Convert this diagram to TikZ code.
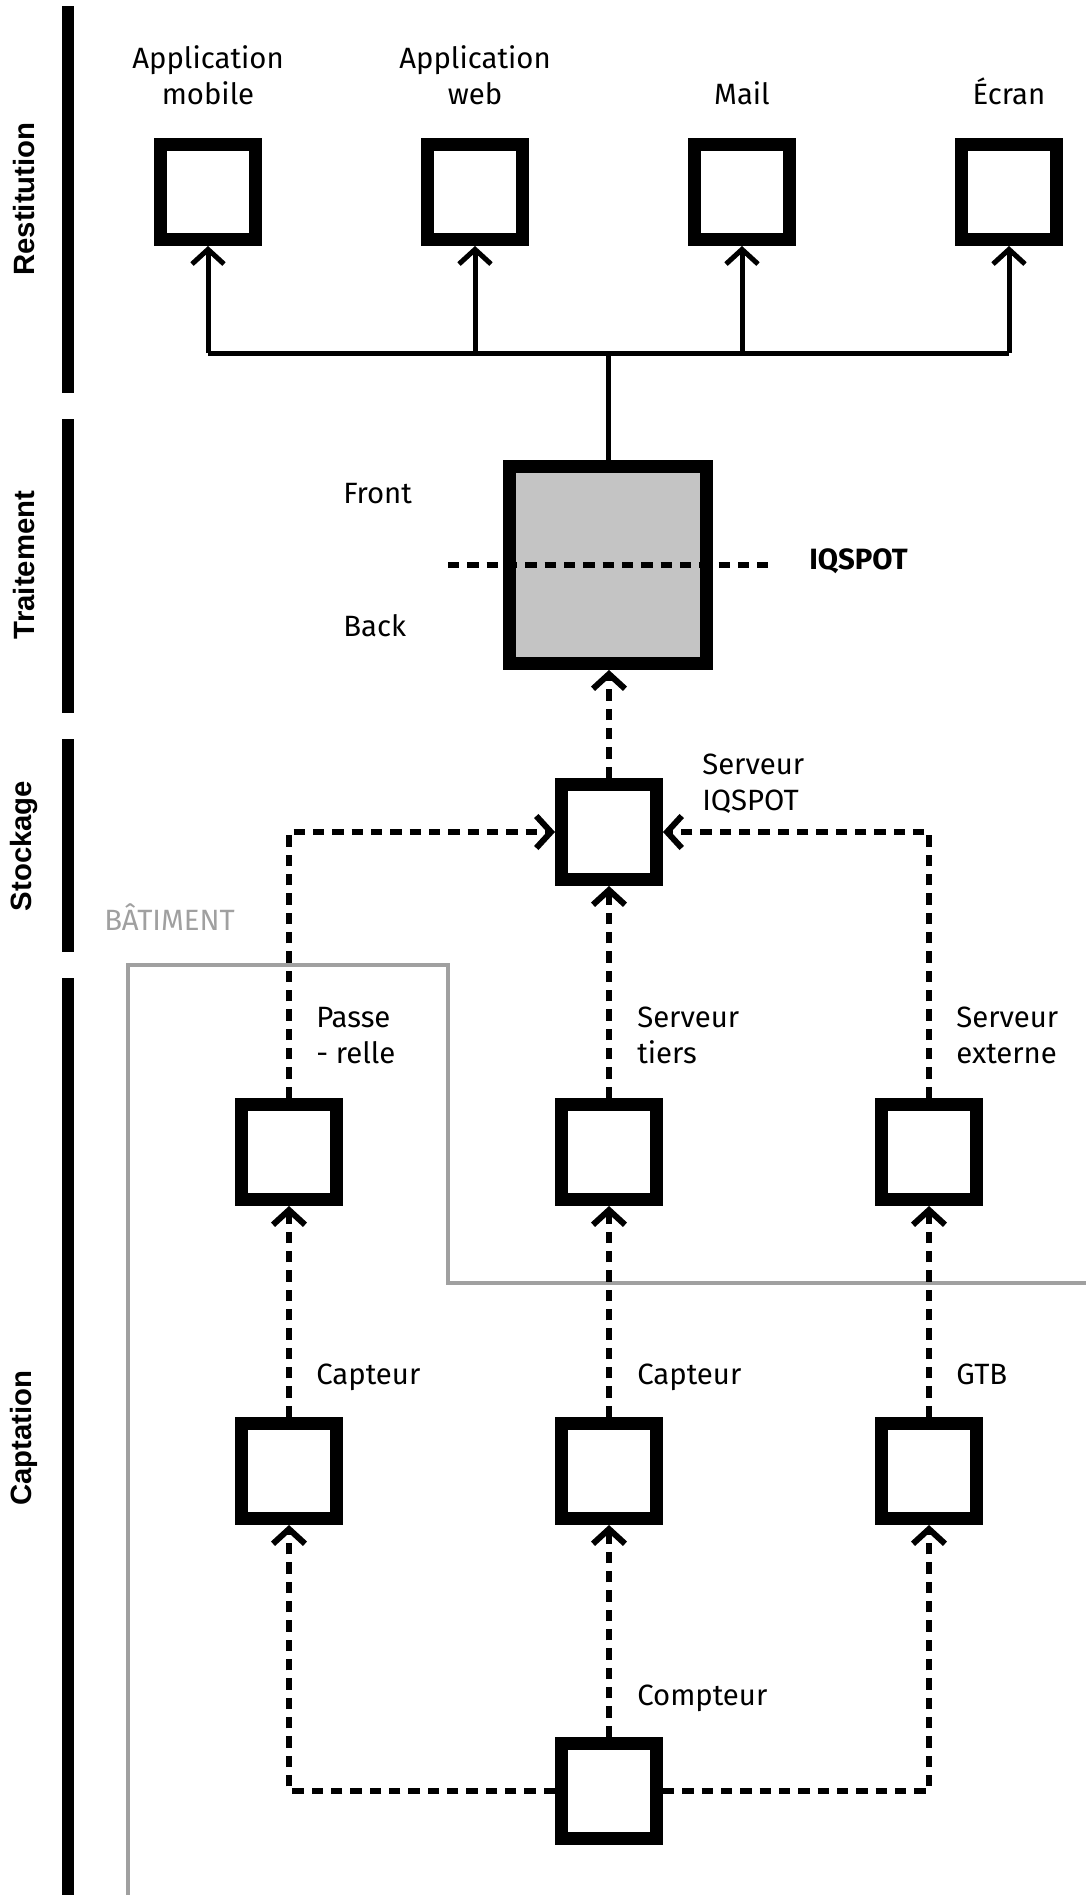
\documentclass[tikz,border=0pt]{standalone}
\usepackage{fontspec}
\setmainfont{Fira Sans}
\newfontfamily\secfont{Liberation Sans}
\usetikzlibrary{arrows.meta}
\definecolor{boxgray}{HTML}{C4C4C4}
\definecolor{bldgray}{HTML}{A0A0A0}
\begin{document}
\begin{tikzpicture}[x=0.75pt,y=-0.75pt,
  box/.style={draw, line width=9.75pt, minimum size=71.25pt, inner sep=0pt, fill=white},
  bigbox/.style={draw, line width=9.75pt, minimum size=147.75pt, inner sep=0pt, fill=boxgray},
  lbl/.style={inner sep=0pt, text depth=0pt, font=\fontsize{22}{27}\selectfont},
  sect/.style={inner sep=0pt, rotate=90, font=\secfont\bfseries\fontsize{22}{26}\selectfont},
  barb/.style={-{Straight Barb[length=11pt,width=24pt]}},
  wire/.style={line width=3.75pt},
  dl/.style={line width=4.5pt, dash pattern=on 8.5pt off 6pt},
  bld/.style={line width=2.6pt, draw=bldgray}
]
\useasboundingbox (0,0) rectangle (1086,1895);

% section bars
\fill (62,6) rectangle (74,393);
\fill (62,419) rectangle (74,713);
\fill (62,739) rectangle (74,952);
\fill (62,978) rectangle (74,1895);
\node[sect] (lres) at (24,199) {Restitution};
\node[sect] (ltra) at (24,565) {Traitement};
\node[sect] (lsto) at (24,846) {Stockage};
\node[sect] (lcap) at (24,1438) {Captation};

% building outline
\draw[bld] (128,1895) |- (448,965) |- (1086,1283);
\node[lbl, anchor=south west, text=bldgray] (bat) at (104,931) {BÂTIMENT};

% restitution boxes
\node[box] (r1) at (208,192) {};
\node[box] (r2) at (475,192) {};
\node[box] (r3) at (742,192) {};
\node[box] (r4) at (1009,192) {};
\node[lbl, anchor=south, align=center] (t1) at (208,105) {Application\\mobile};
\node[lbl, anchor=south, align=center] (t2) at (475,105) {Application\\web};
\node[lbl, anchor=south, align=center] (t3) at (742,105) {Mail};
\node[lbl, anchor=south, align=center] (t4) at (1009,105) {Écran};

% traitement
\node[bigbox] (tr) at (608,565) {};
\draw[wire] (tr.north) -- (608,353) coordinate (hub);
\draw[wire] (r1 |- hub) -- (r4 |- hub);
\foreach \r in {r1,r2,r3,r4} \draw[wire,barb] (\r |- hub) -- (\r.south);
\draw[dl] ([xshift=-41.25pt]tr.west) -- ([xshift=41.25pt]tr.east);
\node[lbl, anchor=south west] (front) at (343,504) {Front};
\node[lbl, anchor=south west] (back) at (343,637) {Back};
\node[lbl, anchor=south west, font=\bfseries\fontsize{22}{27}\selectfont] (iq) at (809,570) {IQSPOT};

% stockage
\node[box] (s) at (609,832) {};
\node[lbl, anchor=south west, align=left] (ts) at (702,811) {Serveur\\IQSPOT};
\draw[dl,barb] (s.north) -- (s.north |- tr.south);

% captation
\node[box] (c1) at (289,1152) {};
\node[box] (c2) at (609,1152) {};
\node[box] (c3) at (929,1152) {};
\node[box] (d1) at (289,1471) {};
\node[box] (d2) at (609,1471) {};
\node[box] (d3) at (929,1471) {};
\node[box] (m) at (609,1791) {};
\node[lbl, anchor=south west, align=left] (tc1) at (316,1064) {Passe\\- relle};
\node[lbl, anchor=south west, align=left] (tc2) at (637,1064) {Serveur\\tiers};
\node[lbl, anchor=south west, align=left] (tc3) at (956,1064) {Serveur\\externe};
\node[lbl, anchor=base west] (td1) at (316,1384) {Capteur};
\node[lbl, anchor=base west] (td2) at (637,1384) {Capteur};
\node[lbl, anchor=base west] (td3) at (956,1384) {GTB};
\node[lbl, anchor=base west] (tm) at (637,1705) {Compteur};

\draw[dl,barb] (c1.north) |- (s.west);
\draw[dl,barb] (c3.north) |- (s.east);
\draw[dl,barb] (c2.north) -- (s.south);
\draw[dl,barb] (d1.north) -- (c1.south);
\draw[dl,barb] (d2.north) -- (c2.south);
\draw[dl,barb] (d3.north) -- (c3.south);
\draw[dl,barb] (m.north) -- (d2.south);
\draw[dl,barb] (m.west) -| (d1.south);
\draw[dl,barb] (m.east) -| (d3.south);
\end{tikzpicture}
\end{document}
